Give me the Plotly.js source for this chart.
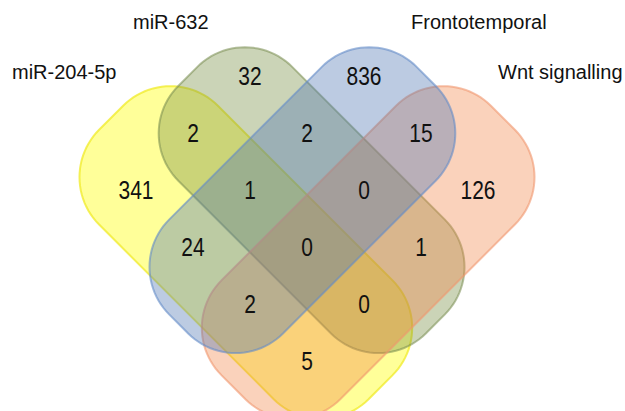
<!DOCTYPE html>
<html>
<head>
<meta charset="utf-8">
<script src="https://cdn.plot.ly/plotly-3.0.1.min.js"></script>
<style>html,body{margin:0;padding:0;background:#fff;}#chart{width:625px;height:411px;}</style>
</head>
<body>
<div id="chart"></div>
<script>
// ---- data ----
const setKeys = ['A', 'B', 'C', 'D'];
const setNames = ['miR-204-5p', 'miR-632', 'Frontotemporal', 'Wnt signalling'];
const regionKeys = ['A', 'B', 'C', 'D', 'AB', 'AC', 'AD', 'BC', 'BD', 'CD', 'ABC', 'ABD', 'ACD', 'BCD', 'ABCD'];
const regionCounts = [341, 32, 836, 126, 2, 24, 5, 2, 1, 15, 1, 0, 2, 0, 0];

// ---- geometry (layout only) ----
const CX = 307, CY = 250, CELL = 57 * Math.SQRT2;
const R = 67;
// rectangle extents in the rotated (U,V) frame, relative to the centre
const rects = {
  A: {u: [-129, 39], v: [-232, 149]},
  B: {u: [-42, 119], v: [-207, 143]},
  C: {u: [-143, 207], v: [-119, 42]},
  D: {u: [-149, 232], v: [-39, 129]}
};
const fills = {
  A: 'rgba(255,255,0,0.40)',
  B: 'rgba(117,142,67,0.38)',
  C: 'rgba(80,117,180,0.38)',
  D: 'rgba(242,130,67,0.36)'
};
const lines = {
  A: 'rgba(240,235,40,0.75)',
  B: 'rgba(120,140,80,0.55)',
  C: 'rgba(100,140,200,0.6)',
  D: 'rgba(240,150,110,0.6)'
};
const drawOrder = ['A', 'B', 'D', 'C'];

function toXY(U, V) {
  return [CX + (U + V) / Math.SQRT2, CY + (V - U) / Math.SQRT2];
}
function roundedPath(rc) {
  const [u0, u1] = rc.u, [v0, v1] = rc.v;
  const corners = [
    [u1 - R, v0 + R, -Math.PI / 2, 0],
    [u1 - R, v1 - R, 0, Math.PI / 2],
    [u0 + R, v1 - R, Math.PI / 2, Math.PI],
    [u0 + R, v0 + R, Math.PI, 1.5 * Math.PI]
  ];
  const pts = [];
  corners.forEach(([cu, cv, a0, a1]) => {
    const n = 24;
    for (let i = 0; i <= n; i++) {
      const a = a0 + (a1 - a0) * i / n;
      pts.push(toXY(cu + R * Math.cos(a), cv + R * Math.sin(a)));
    }
  });
  return 'M ' + pts.map(p => p[0].toFixed(2) + ',' + p[1].toFixed(2)).join(' L ') + ' Z';
}

const shapes = drawOrder.map(k => ({
  type: 'path', xref: 'x', yref: 'y', layer: 'below',
  path: roundedPath(rects[k]),
  fillcolor: fills[k],
  line: {color: lines[k], width: 2}
}));

// cell position of each region from its set membership
function cellOf(key) {
  const a = key.includes('A'), b = key.includes('B'), c = key.includes('C'), d = key.includes('D');
  const cu = a && b ? 0 : a ? -1 : b ? 1 : 2;
  const cv = c && d ? 0 : c ? -1 : d ? 1 : -2;
  return toXY(cu * CELL, cv * CELL);
}
const pos = regionKeys.map(cellOf);

const numTrace = {
  type: 'scatter', mode: 'text',
  x: pos.map(p => p[0]), y: pos.map(p => p[1]),
  text: regionCounts.map(String),
  textposition: 'middle center',
  textfont: {family: '"Liberation Sans", Arial, sans-serif', size: 25, color: '#111'},
  hoverinfo: 'skip', showlegend: false
};

const labelPos = {A: [64, 72], B: [171, 22], C: [479, 22], D: [560, 72]};
const annotations = setKeys.map((k, i) => ({
  x: labelPos[k][0], y: labelPos[k][1], xref: 'x', yref: 'y',
  text: setNames[i], showarrow: false,
  xanchor: 'center', yanchor: 'middle',
  font: {family: '"Liberation Sans", Arial, sans-serif', size: 20, color: '#111'}
}));

Plotly.newPlot('chart', [numTrace], {
  width: 625, height: 411,
  margin: {l: 0, r: 0, t: 0, b: 0},
  paper_bgcolor: '#fff', plot_bgcolor: '#fff',
  xaxis: {range: [0, 625], visible: false, fixedrange: true},
  yaxis: {range: [411, 0], visible: false, fixedrange: true},
  shapes: shapes,
  annotations: annotations,
  showlegend: false
}, {displayModeBar: false, staticPlot: true}).then(gd => {
  // the reference uses a narrow face for the counts: condense them horizontally
  gd.querySelectorAll('.textpoint text').forEach(t => {
    const x = parseFloat(t.getAttribute('x')), y = parseFloat(t.getAttribute('y'));
    t.setAttribute('transform', `translate(${x},${y}) scale(0.84,1) translate(${-x},${-y})`);
  });
});
</script>
</body>
</html>
